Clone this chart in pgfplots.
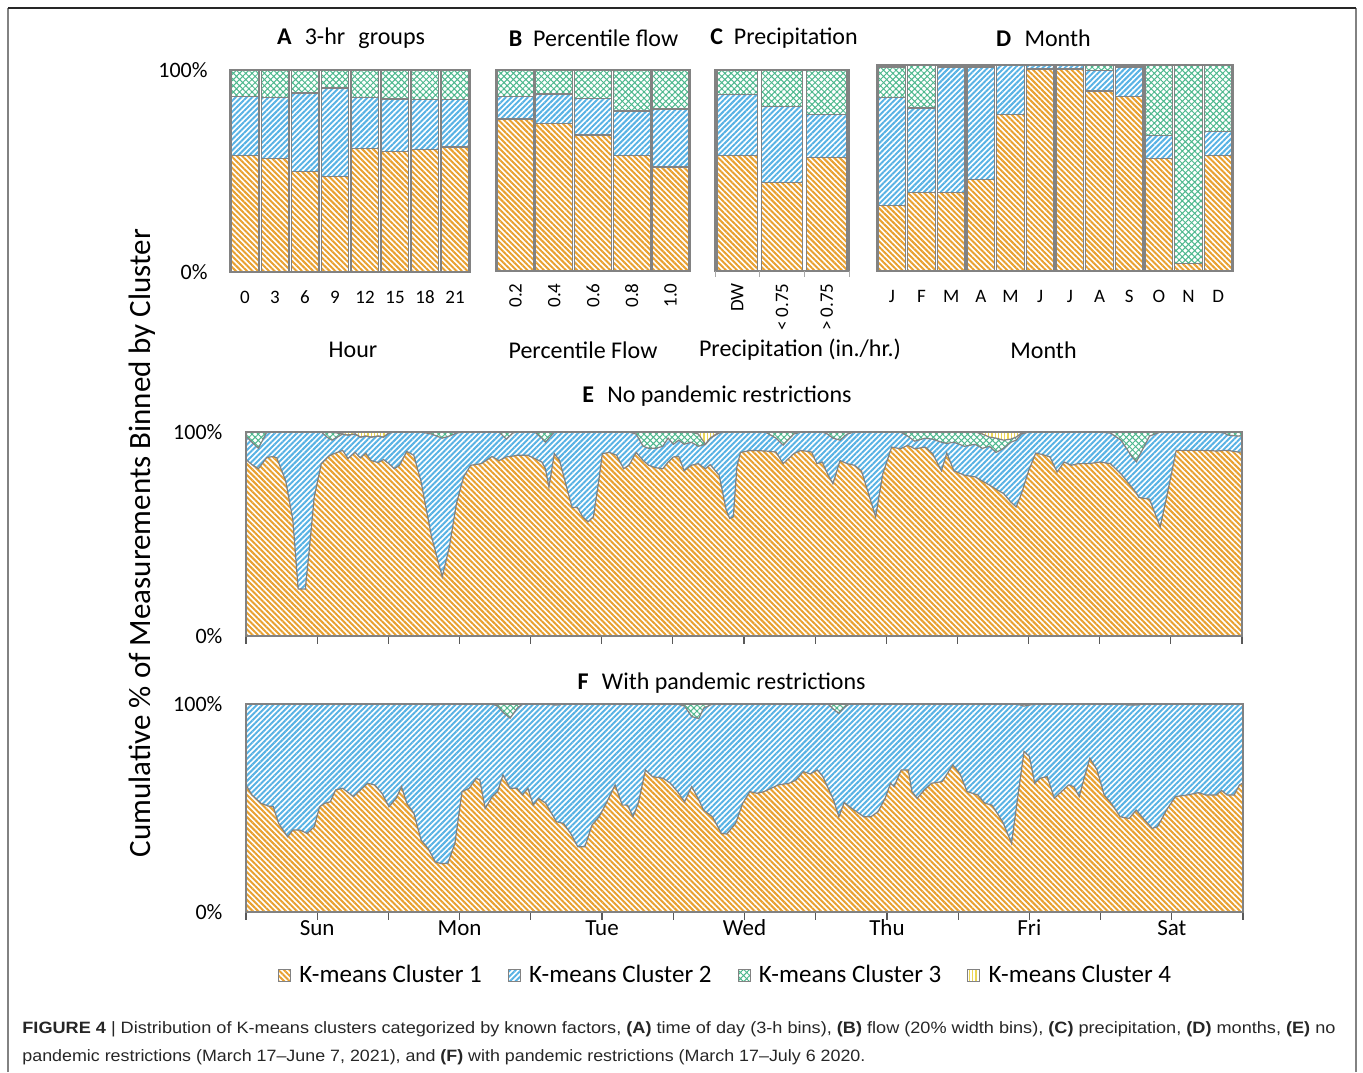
\documentclass[border=0pt]{standalone}
\usepackage{pgfplots}
\usepackage{pgfplotstable}
\pgfplotsset{compat=1.18}
\usetikzlibrary{patterns.meta}
\usepackage{fontspec}
\usepackage{graphicx}
\setmainfont{Carlito}
\newfontfamily\capfont{Liberation Sans}

\definecolor{cOr}{RGB}{232,160,48}
\definecolor{cBl}{RGB}{88,178,228}
\definecolor{cGr}{RGB}{78,184,142}
\definecolor{cYe}{RGB}{236,214,86}
\definecolor{cFrame}{RGB}{130,130,130}

\tikzset{
  pOr/.style={pattern={Lines[angle=-45,distance=1.95pt,line width=1.0pt]}, pattern color=cOr},
  pBl/.style={pattern={Lines[angle=45,distance=1.95pt,line width=1.0pt]}, pattern color=cBl},
  pGr/.style={pattern={Hatch[angle=45,distance=2.2pt,line width=0.5pt]}, pattern color=cGr},
  pYe/.style={pattern={Lines[angle=90,distance=1.6pt,line width=0.55pt]}, pattern color=cYe},
  wOr/.style={fill=white, postaction={pOr}},
  wBl/.style={fill=white, postaction={pBl}},
  wGr/.style={fill=white, postaction={pGr}},
  wYe/.style={fill=white, postaction={pYe}},
}

\pgfplotsset{
  barpanel/.style={
    scale only axis, ybar stacked, ymin=0, ymax=100,
    axis on top,
    axis line style={draw=cFrame, line width=1pt},
    ytick=\empty, xtick pos=lower, ytick pos=left,
    major tick length=0pt,
    xticklabel style={font=\fontsize{9.5}{11}\selectfont, inner sep=0pt, anchor=base, yshift=-15.5pt},
  },
  barstyle/.style={draw=cFrame, line width=0.7pt},
  areapanel/.style={
    scale only axis, xmin=0, xmax=168, ymin=0, ymax=100,
    axis on top,
    axis line style={draw=cFrame, line width=0.9pt},
    xtick={0,12,...,168}, xtick pos=lower, ytick pos=left,
    tick align=outside, major tick length=3.8pt,
    xtick style={draw=black!65, line width=0.6pt},
    ytick={0,100}, yticklabels={0\%,100\%}, ytick style={draw=none},
    yticklabel style={font=\fontsize{11}{13}\selectfont, inner sep=0pt, anchor=east, xshift=-7.8pt},
  },
  edge/.style={draw=cFrame, line width=0.6pt, forget plot},
}

\pgfplotstableread{
h c1 bt gt
0.0 86.5 98 100
1.0 84 95 100
2.1 82 92 100
3.5 87.5 100 100
4.6 88 100 100
5.2 87.3 100 100
6.7 76 100 100
7.9 57 100 100
8.8 23 100 100
10.0 23 100 100
10.6 40 100 100
11.5 68 100 100
12.7 84.5 100 100
13.9 88 97 100
14.5 89 96 100
16.3 91 99 99
17.2 87 98.5 98.5
18.4 90 99 99
19.3 87.3 97.5 97.5
20.2 89.6 98 98
21.1 86 97.5 97.5
22.3 85 98 98
23.2 86.5 97.5 97.5
24.1 84.5 99.5 99.5
25.0 82 100 100
25.9 83.7 100 100
27.1 90.5 100 100
28.3 88.6 100 100
29.5 76 100 100
31.3 48.6 99 100
33.1 29 97 100
34.3 43.7 98 100
35.5 65 99.5 100
36.7 78 100 100
37.9 83.7 100 100
39.7 84.5 100 100
41.5 88 100 100
42.7 86 100 100
43.9 87.8 96.5 100
45.0 88.2 99.5 100
45.7 88.6 100 100
47.5 88.6 100 100
48.7 87 100 100
49.9 85.3 97 100
50.5 82 95 100
51.1 73 97 100
52.0 89.4 100 100
52.9 86 100 100
53.8 76 100 100
55.0 63 100 100
55.9 63 100 100
56.8 58.4 100 100
57.7 56 100 100
58.6 58.4 100 100
59.5 76 100 100
60.1 89.4 100 100
61.3 90 100 100
62.5 88.6 100 100
63.7 82 100 100
64.6 83.7 100 100
65.8 90 99 100
67.0 86 93 100
67.9 83.7 92 100
69.1 82.5 92 100
70.3 82 93 100
71.2 85.3 97 100
72.1 87.8 94 100
73.0 88 96 100
73.9 81 94 100
75.1 83.7 95 100
76.3 84.5 93 99
77.5 82 94 94
78.3 84 97 97
79.8 78.8 99.5 100
81.0 61.7 100 100
81.6 57.6 100 100
82.2 58.4 100 100
82.8 83 100 100
83.4 90 100 100
85.2 91 100 100
87.6 90.7 100 100
89.4 90.2 97 100
90.6 84.5 93.6 100
92.4 89.4 99 100
93.6 91 100 100
95.4 90.2 100 100
96.3 84.5 100 100
97.2 85.3 100 100
98.1 79.4 99 100
99.0 74.7 97 100
100.2 86 96 100
101.4 84.5 99 100
102.6 83.7 100 100
103.8 81 100 100
105.0 69.8 100 100
106.2 58.4 100 100
107.4 79.4 100 100
108.9 92.6 100 100
110.4 91.8 100 100
111.6 93.5 98 100
112.8 91.8 95.5 100
114.6 92.6 97 100
115.8 89.4 96.5 100
117.3 81 95 100
118.2 89.7 94.4 100
119.4 81 95 100
121.2 78.8 93 100
123.0 78 94 100
124.2 76 92 99
125.4 74 93 97.5
126.5 72 90 97
127.8 69.8 92 96
129.0 65.7 95 96.5
129.9 63.3 96 97.5
130.8 69.8 99 99.5
132.0 81 100 100
133.2 89.7 100 100
134.4 88.9 100 100
135.6 87.8 100 100
136.8 80.4 100 100
138.0 85.3 100 100
139.2 83.7 100 100
140.4 84.5 100 100
142.2 84.5 100 100
144.0 85.3 100 100
145.8 84.5 99.5 100
147.6 79.4 96 100
149.4 73 88 100
150.2 70 85.4 100
150.6 67.9 88 100
152.4 67.1 98 100
154.2 53.5 100 100
155.4 69.8 100 100
156.9 91 100 100
159.0 91 100 100
161.4 91 100 100
163.8 90.7 100 100
165.0 91 99.5 100
165.6 91 98.5 100
167.3 90.2 98 100
168.0 90.2 98 100
}\Edata

\pgfplotstableread{
h c1 bt
0.0 61.1 100
1.0 56.3 100
2.5 52.3 100
3.7 51.0 100
4.6 50.6 100
5.5 42.6 100
7.0 36.2 100
7.9 39.4 100
9.1 39.4 100
10.3 37.8 100
11.5 41 100
12.4 50.6 100
13.3 52.3 100
14.2 53 100
15.1 58.7 100
16.3 59.5 100
18.1 55.5 100
19.3 58.7 100
20.5 61.9 100
21.7 61.1 100
22.9 57.1 100
24.1 50.6 100
25.3 54.7 100
26.2 60.3 100
27.1 52.3 100
28.3 47.4 100
29.5 34.6 100
30.7 30.5 100
31.9 24.1 99.5
32.8 23.3 100
34.0 23.3 100
35.2 33 100
36.4 57.9 100
37.6 59.5 100
38.8 64.3 100
39.4 63.5 100
40.3 49.8 100
41.5 55.5 100
42.4 57.9 99
43.3 65.9 96
44.5 59.5 93.2
45.7 59.5 98
46.6 56.3 100
47.5 59.5 100
48.4 51.4 100
49.3 54.7 100
50.5 52.3 100
52.3 43.4 99.5
53.5 42.6 100
54.7 37.8 100
55.9 31.4 100
57.1 31.4 100
58.3 41.8 100
59.5 45.8 100
60.7 52.3 100
62.2 61.1 100
63.4 51.4 100
64.3 51.4 100
65.2 45.8 100
66.1 52.3 100
67.3 68.3 100
68.5 65.1 100
70.3 64.3 100
71.5 61.9 100
72.7 57.9 100
73.9 53 99
75.1 60.3 94
76.3 53.9 93
77.1 49 98
78.6 45.8 100
80.1 37.8 100
81.0 37.5 100
82.5 42.6 100
83.7 52.3 100
84.9 57.9 100
86.1 57.1 100
87.3 57.9 100
88.5 59.5 100
89.7 61.1 100
91.5 61.9 100
92.7 63.5 100
93.9 67.5 100
95.1 66.4 100
96.3 68.3 100
97.2 65.1 100
98.1 59.5 100
99.0 53.9 97.5
99.9 45.8 95.5
100.8 52.7 98.5
101.7 50.6 100
102.9 48.2 100
104.1 45.8 100
105.3 45.8 100
106.5 48.2 100
107.7 54.7 100
108.6 61.9 100
109.2 60.3 100
110.4 68.3 100
111.6 68.3 100
112.2 57.9 100
113.1 54.7 100
114.3 58.7 100
115.5 61.9 100
117.3 62.7 100
119.1 70.7 100
120.3 66.6 100
121.5 57.9 100
123.3 56.3 100
124.5 52.3 100
125.7 51.4 100
127.5 43.4 100
129.0 33 100
129.9 52.3 100
131.1 77.2 99
132.0 74.8 99.5
132.9 61.9 100
133.8 64.3 100
135.0 65.1 100
136.2 54.7 100
137.4 57.9 100
138.6 61.1 100
139.5 60.3 100
140.4 55.5 100
141.3 65.1 100
142.2 74 100
143.4 68.3 100
144.6 56.3 100
145.8 52.3 100
147.3 45.8 100
148.8 45 99.5
150.0 49 99.5
151.2 45 100
152.7 40.2 100
153.6 41 100
155.1 49 100
156.6 55.5 100
158.7 56.3 100
160.5 57.4 100
161.7 56.3 100
163.5 56.3 100
164.4 58.4 100
165.3 56.3 100
166.5 56.3 100
167.4 61.1 100
168.0 62 100
}\Fdata

\begin{document}
\begin{tikzpicture}
\path[use as bounding box] (0pt,0pt) rectangle (681.5pt,-536pt);
% frame
\draw[cFrame, line width=0.8pt] (4pt,-536pt) -- (4pt,-4pt);
\draw[cFrame, line width=0.8pt] (678pt,-536pt) -- (678pt,-4pt);
\draw[black!85, line width=0.8pt] (4pt,-4pt) -- (678pt,-4pt);

% ---------- A ----------
\begin{axis}[barpanel, at={(115pt,-136pt)}, anchor=south west, width=120pt, height=101pt,
  xmin=-0.5, xmax=7.5, bar width=0.92, xtick={0,...,7}, xticklabels={0,3,6,9,12,15,18,21},
  ytick={0,100}, yticklabels={0\%,100\%}, ytick style={draw=none},
  yticklabel style={font=\fontsize{11}{13}\selectfont, inner sep=0pt, anchor=east, xshift=-11pt},
  enlargelimits=false]
\addplot[barstyle, pOr] coordinates {(0,57.7) (1,56.3) (2,49.8) (3,47.4) (4,61.0) (5,59.6) (6,60.6) (7,61.8)};
\addplot[barstyle, pBl] coordinates {(0,29.1) (1,30.0) (2,38.8) (3,43.7) (4,25.3) (5,26.1) (6,24.9) (7,23.7)};
\addplot[barstyle, pGr] coordinates {(0,13.2) (1,13.7) (2,11.4) (3,8.9) (4,13.7) (5,14.3) (6,14.5) (7,14.5)};
\end{axis}

% ---------- B ----------
\begin{axis}[barpanel, at={(248pt,-135.5pt)}, anchor=south west, width=97pt, height=100.5pt,
  xmin=-0.5, xmax=4.5, bar width=0.95, xtick={0,...,4}, xticklabels={0.2,0.4,0.6,0.8,1.0},
  xticklabel style={yshift=9.5pt, rotate=90, anchor=east},
  enlargelimits=false]
\addplot[barstyle, pOr] coordinates {(0,75.6) (1,73.3) (2,67.6) (3,57.5) (4,51.7)};
\addplot[barstyle, pBl] coordinates {(0,11.3) (1,14.7) (2,18.1) (3,22.2) (4,29.0)};
\addplot[barstyle, pGr] coordinates {(0,13.1) (1,12.0) (2,14.3) (3,20.3) (4,19.3)};
\end{axis}

% ---------- C ----------
\begin{axis}[barpanel, at={(357.5pt,-135.5pt)}, anchor=south west, width=67pt, height=100.5pt,
  xmin=-0.5, xmax=2.5, bar width=0.91, xtick={0,1,2}, xticklabels={DW,< 0.75,> 0.75},
  xticklabel style={yshift=9.5pt, rotate=90, anchor=east},
  extra x ticks={-0.5,0.5,1.5,2.5}, extra x tick labels={},
  extra x tick style={major tick length=3pt, tick align=outside, tick style={draw=cFrame!70, line width=0.5pt}},
  enlargelimits=false]
\addplot[barstyle, pOr] coordinates {(0,57.5) (1,43.9) (2,56.5)};
\addplot[barstyle, pBl] coordinates {(0,30.4) (1,37.8) (2,21.4)};
\addplot[barstyle, pGr] coordinates {(0,12.1) (1,18.3) (2,22.1)};
\end{axis}

% ---------- D ----------
\begin{axis}[barpanel, at={(438.5pt,-135.5pt)}, anchor=south west, width=178pt, height=103pt,
  xmin=-0.5, xmax=11.5, bar width=0.94, xtick={0,...,11}, xticklabels={J,F,M,A,M,J,J,A,S,O,N,D},
  enlargelimits=false]
\addplot[barstyle, pOr] coordinates {(0,31.7) (1,38.2) (2,38.2) (3,44.3) (4,76.0) (5,98.0) (6,98.0) (7,87.3) (8,84.8) (9,54.6) (10,3.6) (11,56.2)};
\addplot[barstyle, pBl] coordinates {(0,52.6) (1,40.9) (2,60.8) (3,54.7) (4,24.0) (5,2.0) (6,2.0) (7,10.1) (8,14.2) (9,11.1) (10,0) (11,11.4)};
\addplot[barstyle, pGr] coordinates {(0,14.7) (1,20.9) (2,1.0) (3,1.0) (4,0) (5,0) (6,0) (7,2.6) (8,1.0) (9,34.3) (10,96.4) (11,32.4)};
\addplot[barstyle, pYe] coordinates {(0,1.0) (1,0) (2,0) (3,0) (4,0) (5,0) (6,0) (7,0) (8,0) (9,0) (10,0) (11,0)};
\end{axis}

% ---------- E ----------
\begin{axis}[areapanel, at={(123pt,-318pt)}, anchor=south west, width=498pt, height=102pt,
  xticklabels={}]
\addplot[draw=none, wYe, forget plot] coordinates {(0,100) (168,100)} \closedcycle;
\addplot[draw=none, wGr, forget plot] table[x=h,y=gt] {\Edata} \closedcycle;
\addplot[draw=none, wBl, forget plot] table[x=h,y=bt] {\Edata} \closedcycle;
\addplot[draw=none, wOr, forget plot] table[x=h,y=c1] {\Edata} \closedcycle;
\addplot[edge] table[x=h,y=c1] {\Edata};
\addplot[edge] table[x=h,y=bt] {\Edata};
\addplot[edge] table[x=h,y=gt] {\Edata};
\end{axis}

% ---------- F ----------
\begin{axis}[areapanel, at={(123pt,-456pt)}, anchor=south west, width=498.5pt, height=104pt,
  xticklabels={,Sun,,Mon,,Tue,,Wed,,Thu,,Fri,,Sat,},
  xticklabel style={font=\fontsize{11.5}{13}\selectfont, inner sep=0pt, anchor=base, yshift=-8pt},
  legend style={draw=none, fill=none, at={(0.482,-0.303)}, anchor=center, legend columns=4,
    font=\fontsize{12.5}{15}\selectfont,
    /tikz/every even column/.append style={column sep=11pt}},
  legend cell align=left,
  legend image code/.code={\draw[#1, draw=cFrame, line width=0.5pt] (0pt,-3pt) rectangle (6pt,3pt); \path (8.2pt,0pt);}]
\addplot[draw=none, wGr, forget plot] coordinates {(0,100) (168,100)} \closedcycle;
\addplot[draw=none, wBl, forget plot] table[x=h,y=bt] {\Fdata} \closedcycle;
\addplot[draw=none, wOr, forget plot] table[x=h,y=c1] {\Fdata} \closedcycle;
\addplot[edge] table[x=h,y=c1] {\Fdata};
\addplot[edge] table[x=h,y=bt] {\Fdata};
\addlegendimage{pOr}
\addlegendentry{K-means Cluster 1}
\addlegendimage{pBl}
\addlegendentry{K-means Cluster 2}
\addlegendimage{pGr}
\addlegendentry{K-means Cluster 3}
\addlegendimage{pYe}
\addlegendentry{K-means Cluster 4}
\end{axis}

% ---------- titles and labels ----------
\begin{scope}[every node/.style={inner sep=0pt, font=\fontsize{12}{14}\selectfont}]
\node at (175.5pt,-19pt) {\textbf{A}\hspace{0.55em}3-hr\hspace{0.55em}groups};
\node at (296.75pt,-19pt) {\textbf{B}\hspace{0.45em}Percentile flow};
\node at (392pt,-19pt) {\textbf{C}\hspace{0.45em}Precipitation};
\node at (521.75pt,-19pt) {\textbf{D}\hspace{0.55em}Month};
\node at (358.5pt,-198pt) {\textbf{E}\hspace{0.55em}No pandemic restrictions};
\node at (360.8pt,-341.5pt) {\textbf{F}\hspace{0.55em}With pandemic restrictions};
\node at (176.5pt,-175pt) {Hour};
\node at (291.5pt,-175pt) {Percentile Flow};
\node at (400pt,-175pt) {Precipitation (in./hr.)};
\node at (521.75pt,-175pt) {Month};
\node[rotate=90, font=\fontsize{15.5}{18}\selectfont] at (71pt,-271.5pt) {Cumulative \% of Measurements Binned by Cluster};
\end{scope}

% ---------- caption ----------
\node[anchor=west, inner sep=0pt, text=black!85] at (11pt,-514.5pt) {\resizebox{656.5pt}{\height}{\capfont\fontsize{8.2}{10}\selectfont \textbf{FIGURE 4} | Distribution of K-means clusters categorized by known factors, \textbf{(A)} time of day (3-h bins), \textbf{(B)} flow (20\% width bins), \textbf{(C)} precipitation, \textbf{(D)} months, \textbf{(E)} no}};
\node[anchor=west, inner sep=0pt, text=black!85] at (11pt,-528.5pt) {\resizebox{421.5pt}{\height}{\capfont\fontsize{8.2}{10}\selectfont pandemic restrictions (March 17\textendash June 7, 2021), and \textbf{(F)} with pandemic restrictions (March 17\textendash July 6 2020.}};
\end{tikzpicture}
\end{document}
